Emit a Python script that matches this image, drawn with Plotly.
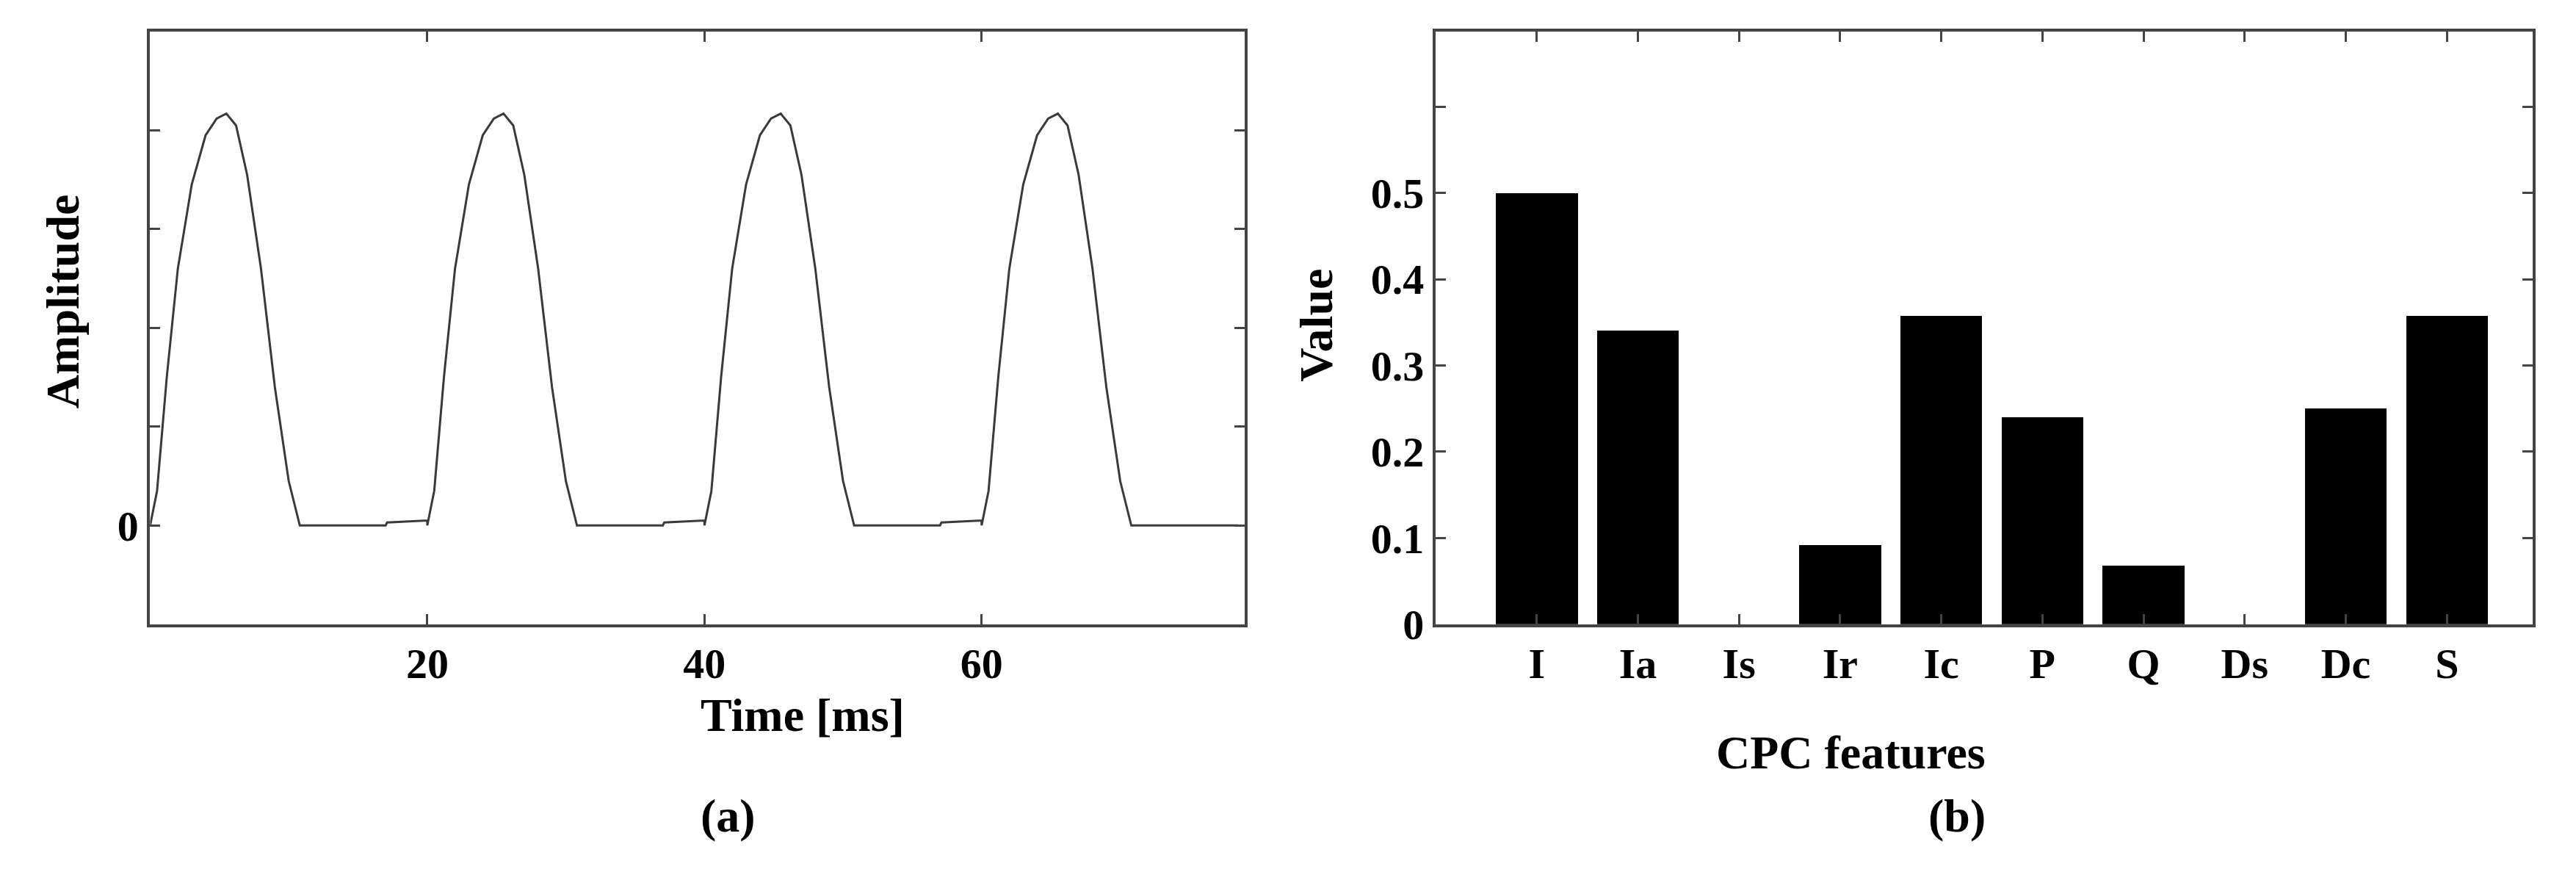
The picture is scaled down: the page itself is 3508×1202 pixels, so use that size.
import plotly.graph_objects as go

# one cycle of the rectified waveform (time offset in ms, amplitude)
cycle_t = [0, 0.5, 1.2, 2.0, 3.0, 4.0, 4.8, 5.5, 6.2, 7.0, 8.0, 9.0, 10.0, 10.8, 17.0, 17.1, 20.0]
cycle_a = [0, 0.35, 1.5, 2.6, 3.45, 3.95, 4.12, 4.17, 4.05, 3.55, 2.6, 1.4, 0.45, 0, 0.0, 0.03, 0.05]
cycle_starts = [0, 20, 40, 60]
end_t = [78.5]
end_a = [0.0]

t, a = [], []
for s in cycle_starts:
    n = len(cycle_t) if s < 60 else 14
    for ct, ca in zip(cycle_t[:n], cycle_a[:n]):
        t.append(s + ct)
        a.append(ca)
t += end_t
a += end_a

features = ["I", "Ia", "Is", "Ir", "Ic", "P", "Q", "Ds", "Dc", "S"]
values = [0.5, 0.34, 0.0, 0.092, 0.357, 0.24, 0.068, 0.0, 0.25, 0.357]
positions = [1, 2, 3, 4, 5, 6, 7, 8, 9, 10]

FONT = "Liberation Serif"
fig = go.Figure()
fig.add_trace(go.Scatter(x=t, y=a, mode="lines", line=dict(color="#3a3a3a", width=3),
                         xaxis="x", yaxis="y", showlegend=False))
fig.add_trace(go.Bar(x=positions, y=values, width=0.81, marker=dict(color="black", line=dict(width=0)),
                     xaxis="x2", yaxis="y2", showlegend=False))

ax = dict(showline=True, linecolor="#444", linewidth=4, mirror="ticks", ticks="inside",
          ticklen=14, tickwidth=3, tickcolor="#444", showgrid=False, zeroline=False,
          tickfont=dict(family=FONT, size=58, color="black"))
fig.update_layout(
    width=3508, height=1202, margin=dict(l=0, r=0, t=0, b=0),
    paper_bgcolor="white", plot_bgcolor="white",
    font=dict(family=FONT, color="black"),
    bargap=0,
    xaxis=dict(ax, domain=[0.056, 0.481], range=[0, 79], tickvals=[20, 40, 60],
               ticktext=["<b>20</b>", "<b>40</b>", "<b>60</b>"], anchor="y"),
    yaxis=dict(ax, domain=[0.28, 0.97], range=[-1, 5], tickvals=[0, 1, 2, 3, 4, 5],
               ticktext=["<b>0</b>", "", "", "", "", ""], anchor="x"),
    xaxis2=dict(ax, domain=[0.555, 0.981], range=[0, 10.85], tickvals=positions,
                ticktext=["<b>%s</b>" % f for f in features], anchor="y2"),
    yaxis2=dict(ax, domain=[0.28, 0.97], range=[0, 0.687], tickvals=[0, 0.1, 0.2, 0.3, 0.4, 0.5, 0.6],
                ticktext=["<b>0</b>", "<b>0.1</b>", "<b>0.2</b>", "<b>0.3</b>", "<b>0.4</b>", "<b>0.5</b>", ""],
                anchor="x2"),
)
ann = [
    ("<b>Time [ms]</b>", 944, 1031, 0),
    ("<b>(a)</b>", 944, 1172, 0),
    ("<b>Amplitude</b>", 40, 414, -90),
    ("<b>CPC features</b>", 2698, 1084, 0),
    ("<b>(b)</b>", 2698, 1172, 0),
    ("<b>Value</b>", 1785, 447, -90),
]
for txt, px, py, ang in ann:
    fig.add_annotation(text=txt, x=px / 3508, y=1 - py / 1202, xref="paper", yref="paper",
                       showarrow=False, textangle=ang, font=dict(family=FONT, size=64, color="black"))
fig.write_html("out.html")
